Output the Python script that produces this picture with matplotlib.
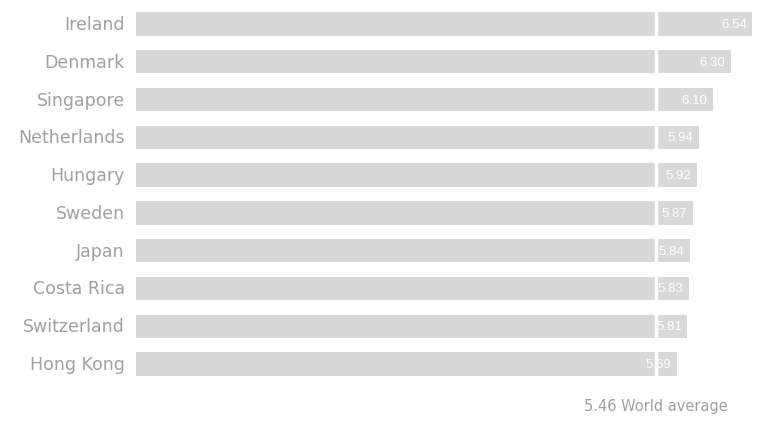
import numpy as np
import matplotlib.pyplot as plt
import matplotlib.transforms as mtransforms

countries = ['Ireland', 'Denmark', 'Singapore', 'Netherlands', 'Hungary',
             'Sweden', 'Japan', 'Costa Rica', 'Switzerland', 'Hong Kong']
scores = [6.54, 6.30, 6.10, 5.94, 5.92, 5.87, 5.84, 5.83, 5.81, 5.69]
world_average = 5.46

base = -0.4
bar_color = '#d8d8d8'
text_color = '#a0a0a0'

plt.rcParams['font.family'] = ['DejaVu Sans']

fig = plt.figure(figsize=(7.58, 4.31), dpi=100)
left_px = 136
ax = fig.add_axes([left_px / 758, 0.1093, 1 - left_px / 758, 0.8766])

y = np.arange(len(countries))
vals = np.array(scores)
ax.barh(y, vals - base, left=base, height=0.62, color=bar_color)

# white split across the bars at the world average
ax.axvline(world_average, color='white', lw=2.5, zorder=1.5)

for yi, v in zip(y, vals):
  ax.text(v - 0.06, yi, f'{v:.2f}', ha='right', va='center',
          color='white', fontsize=9.5, family='Liberation Sans', zorder=3)

ylab = mtransforms.blended_transform_factory(ax.transAxes, ax.transData)
for yi, name in zip(y, countries):
  ax.text(-0.018, yi, name, transform=ylab,
          ha='right', va='center', color=text_color, fontsize=12.5)

trans = mtransforms.blended_transform_factory(ax.transData, ax.transAxes)
ax.text(world_average, -0.06, f'{world_average:.2f} World average', transform=trans,
        ha='center', va='center', color=text_color, fontsize=10.5)

ax.set_xlim(base, base + (758 - left_px) / ((752 - left_px) / (6.54 - base)))
ax.set_ylim(len(countries) - 0.5, -0.5)
ax.axis('off')

fig.savefig('out.png', dpi=100, facecolor='white')
